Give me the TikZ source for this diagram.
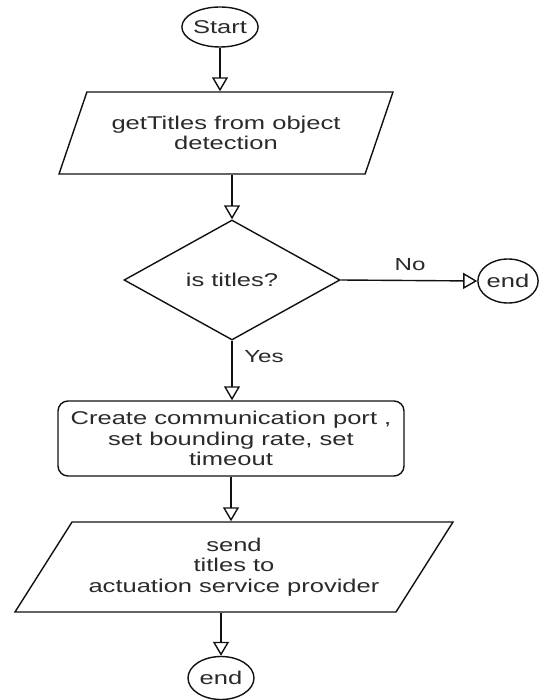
\documentclass[tikz,border=0pt]{standalone}
\usepackage{fontspec}
\setmainfont{Liberation Sans}[FakeStretch=1.38]
\usetikzlibrary{shapes.geometric, arrows.meta}
\definecolor{ink}{HTML}{111111}
\definecolor{txt}{HTML}{2A2A2A}

\begin{document}
\begin{tikzpicture}[x=1pt, y=-1pt,
  every node/.style={font=\fontsize{18.5}{20.5}\selectfont, text=txt, align=center, inner sep=0pt},
  line/.style={draw=ink, line width=1.4pt},
  terminal/.style={line, ellipse, minimum width=66pt, minimum height=40pt},
  io/.style={line, trapezium, trapezium stretches body},
  process/.style={line, rectangle, rounded corners=10pt, minimum width=346pt, minimum height=75pt},
  decision/.style={line, diamond, minimum width=216pt, minimum height=120pt},
  flow/.style={line, -{Triangle[open, length=14pt, width=16pt, line width=1.4pt]}},
  tag/.style={font=\fontsize{17.5}{20}\selectfont}
]
\useasboundingbox[fill=white] (0,0) rectangle (538,700);

% terminals
\node[terminal] (start) at (220,27) {Start};
\node[terminal, minimum width=58pt, minimum height=44pt] (endr) at (508,281) {end};
\node[terminal, minimum height=43pt] (endb) at (221,678) {end};

% input / output
\node[io, trapezium left angle=50.7, trapezium right angle=129.3,
      minimum width=334pt, minimum height=82pt] (p1) at (226,133)
      {getTitles from object\\detection};
\node[io, trapezium left angle=45.6, trapezium right angle=134.4,
      minimum width=438pt, minimum height=90pt] (p2) at (234,567)
      {send\\titles to\\actuation service provider};

% decision and process
\node[decision] (dec) at (232,280) {is titles?};
\node[process] (proc) at (231,438.5) {Create communication port ,\\set bounding rate, set\\timeout};

% connectors
\draw[flow] (start.south) -- (start.south |- p1.north);
\draw[flow] (p1.south -| dec.north) -- (dec.north);
\draw[flow] (dec.east) -- (endr.west);
\draw[flow] (dec.south) -- (dec.south |- proc.north);
\draw[flow] (proc.south) -- (proc.south |- p2.north);
\draw[flow] (endb.north |- p2.south) -- (endb.north);

% branch labels
\node[tag] (lno) at (410,265) {No};
\node[tag] (lyes) at (264,357) {Yes};
\end{tikzpicture}
\end{document}
